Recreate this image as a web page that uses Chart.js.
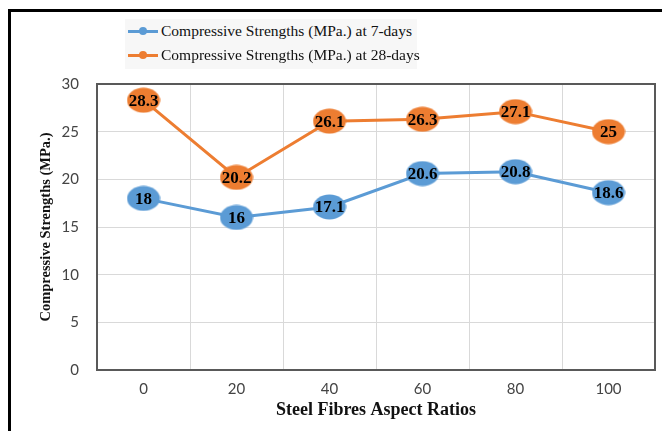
<!DOCTYPE html>
<html>
<head>
<meta charset="utf-8">
<script src="https://cdn.jsdelivr.net/npm/chart.js@4"></script>
<style>
  body { margin: 0; background: #fff; }
  #frame { position: absolute; left: 8px; top: 9px; width: 700px; height: 500px; border: 3px solid #000; }
  #wrap { position: absolute; left: 0; top: 0; width: 662px; height: 431px; }
  #legend { position: absolute; left: 125px; top: 19px; width: 292px; height: 50px; background: #f7f7f7;
    font-family: "Liberation Serif", "Times New Roman", serif; font-size: 15.5px; color: #111; }
  .item { position: absolute; left: 3px; height: 20px; display: flex; align-items: center; white-space: nowrap; }
  .mark { position: relative; width: 30px; height: 20px; margin-right: 3px; flex: none; }
  .mark .ln { position: absolute; left: 0; top: 8.5px; width: 30px; height: 3px; }
  .mark .dt { position: absolute; left: 11px; top: 6px; width: 8px; height: 8px; border-radius: 50%; }
</style>
</head>
<body>
<div id="frame"></div>
<div id="wrap"><canvas id="chart" width="662" height="431"></canvas></div>
<div id="legend"></div>
<script>
// data
const aspectRatios = ['0', '20', '40', '60', '80', '100'];
const strength7 = [18, 16, 17.1, 20.6, 20.8, 18.6];
const strength28 = [28.3, 20.2, 26.1, 26.3, 27.1, 25];
const seriesNames = ['Compressive Strengths (MPa.) at 7-days', 'Compressive Strengths (MPa.) at 28-days'];
const yTicks = [0, 5, 10, 15, 20, 25, 30];

const blue = '#5B9BD5';
const orange = '#ED7D31';

// ellipse marker used as point style
function ellipseMarker(color) {
  const c = document.createElement('canvas');
  c.width = 34; c.height = 26;
  const g = c.getContext('2d');
  g.fillStyle = color;
  g.beginPath();
  g.ellipse(17, 13, 16.5, 12.5, 0, 0, Math.PI * 2);
  g.fill();
  return c;
}

// value text on top of every marker
const valueLabels = {
  id: 'valueLabels',
  afterDatasetsDraw(chart) {
    const ctx = chart.ctx;
    ctx.save();
    ctx.font = 'bold 17px "Liberation Serif", serif';
    ctx.fillStyle = '#000';
    ctx.textAlign = 'center';
    ctx.textBaseline = 'middle';
    chart.data.datasets.forEach((ds, i) => {
      chart.getDatasetMeta(i).data.forEach((pt, j) => {
        ctx.fillText(String(ds.data[j]), pt.x, pt.y + 1);
      });
    });
    ctx.restore();
  }
};

// plot frame
const plotBorder = {
  id: 'plotBorder',
  afterDraw(chart) {
    const a = chart.chartArea;
    const ctx = chart.ctx;
    ctx.save();
    ctx.strokeStyle = '#595959';
    ctx.lineWidth = 2;
    ctx.strokeRect(a.left, a.top, a.right - a.left, a.bottom - a.top);
    ctx.restore();
  }
};

const chart = new Chart(document.getElementById('chart'), {
  type: 'line',
  data: {
    labels: aspectRatios,
    datasets: [
      { label: seriesNames[0], data: strength7, borderColor: blue, backgroundColor: blue,
        borderWidth: 3, pointStyle: ellipseMarker(blue), tension: 0 },
      { label: seriesNames[1], data: strength28, borderColor: orange, backgroundColor: orange,
        borderWidth: 3, pointStyle: ellipseMarker(orange), tension: 0 }
    ]
  },
  options: {
    responsive: false,
    animation: false,
    layout: { padding: { left: 22, top: 84, right: 6, bottom: 10 } },
    plugins: { legend: { display: false }, tooltip: { enabled: false } },
    scales: {
      x: {
        offset: true,
        grid: { offset: true, color: '#d9d9d9', drawTicks: false },
        border: { display: false },
        ticks: { padding: 10, color: '#444', font: { family: 'Lato', size: 15 } },
        title: { display: true, text: 'Steel Fibres Aspect Ratios', color: '#111', padding: 0,
          font: { family: '"Liberation Serif", serif', size: 18, weight: 'bold' } },
        afterFit: s => { s.height = 51; }
      },
      y: {
        min: 0, max: 30,
        afterBuildTicks: s => { s.ticks = yTicks.map(v => ({ value: v })); },
        grid: { color: '#d9d9d9', drawTicks: false },
        border: { display: false },
        ticks: { padding: 18, color: '#444', font: { family: 'Lato', size: 15 } },
        title: { display: true, text: 'Compressive Strengths (MPa.)', color: '#111', padding: { top: 16 },
          font: { family: '"Liberation Serif", serif', size: 14.5, weight: 'bold' } },
        afterFit: s => { s.width = 75; }
      }
    }
  },
  plugins: [valueLabels, plotBorder]
});

// html legend built from the datasets
const legend = document.getElementById('legend');
chart.data.datasets.forEach((ds, i) => {
  const row = document.createElement('div');
  row.className = 'item';
  row.style.top = (2 + i * 24) + 'px';
  row.innerHTML = '<span class="mark"><span class="ln" style="background:' + ds.borderColor +
    '"></span><span class="dt" style="background:' + ds.borderColor + '"></span></span>' +
    '<span>' + ds.label + '</span>';
  legend.appendChild(row);
});
</script>
</body>
</html>
